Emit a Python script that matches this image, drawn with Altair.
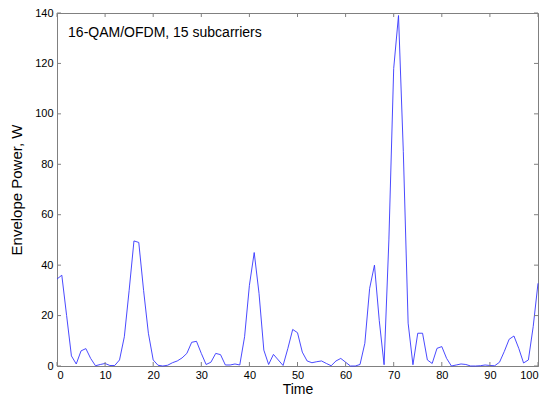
import altair as alt
import pandas as pd

time = list(range(101))
power = [34.5, 36, 20, 4, 0.8, 6, 6.9, 3, 0.1, 0.6,
         1, 0.2, 0.2, 2.4, 11.6, 30, 49.6, 49, 30, 13,
         2.4, 0.3, 0, 0.3, 1.3, 2, 3.2, 5, 9.4, 9.8,
         5, 0.6, 1.5, 5, 4.5, 0.4, 0.4, 0.8, 0.4, 11.6,
         32, 45, 28.8, 6.3, 0.6, 4.6, 2.4, 0.2, 7, 14.5,
         13.2, 5.5, 2, 1.3, 1.7, 2, 1, 0.1, 2, 3,
         1.5, 0, 0, 0.6, 9, 30.8, 40, 18, 0.5, 50,
         118, 139, 85, 17, 0.5, 13, 13, 2.4, 1, 7,
         7.7, 3, 0, 0.4, 0.8, 0.6, 0, 0, 0.1, 0.4,
         0.2, 0.1, 1.5, 5.8, 10.6, 11.9, 7, 1.2, 2.4, 15.6, 32.8]
x_ticks = list(range(0, 101, 10))
y_ticks = list(range(0, 141, 20))
annotation = "16-QAM/OFDM, 15 subcarriers"

W, H = 481, 353
AX = "#808080"
FONT = "Liberation Sans"

df = pd.DataFrame({"Time": time, "Power": power})
xs = alt.Scale(domain=[0, 100], nice=False, zero=False)
ys = alt.Scale(domain=[0, 140], nice=False)

line = alt.Chart(df).mark_line(color="#3535ff", strokeWidth=0.9).encode(
    x=alt.X("Time:Q", scale=xs, title="Time",
            axis=alt.Axis(values=x_ticks, format="d", tickSize=0, labelPadding=3,
                          titlePadding=2, titleFontSize=14, grid=False)),
    y=alt.Y("Power:Q", scale=ys, title="Envelope Power, W",
            axis=alt.Axis(values=y_ticks, format="d", tickSize=0, labelPadding=4,
                          titlePadding=10, grid=False)),
)

xt = pd.DataFrame({"t": x_ticks})
yt = pd.DataFrame({"v": y_ticks})
tick_style = dict(color=AX, strokeWidth=1)
xb = alt.Chart(xt).mark_rule(**tick_style).encode(x=alt.X("t:Q", scale=xs), y=alt.value(H), y2=alt.value(H - 4))
xtop = alt.Chart(xt).mark_rule(**tick_style).encode(x=alt.X("t:Q", scale=xs), y=alt.value(0), y2=alt.value(4))
yl = alt.Chart(yt).mark_rule(**tick_style).encode(y=alt.Y("v:Q", scale=ys), x=alt.value(0), x2=alt.value(4))
yr = alt.Chart(yt).mark_rule(**tick_style).encode(y=alt.Y("v:Q", scale=ys), x=alt.value(W), x2=alt.value(W - 4))

txt = alt.Chart(pd.DataFrame({"label": [annotation]})).mark_text(
    align="left", baseline="middle", fontSize=14, font=FONT, color="black"
).encode(x=alt.datum(2.3), y=alt.datum(132), text="label:N")

chart = alt.layer(line, xb, xtop, yl, yr, txt).properties(
    width=W, height=H,
    autosize=alt.AutoSizeParams(type="none"),
    padding={"left": 57, "top": 13, "right": 8, "bottom": 33},
).configure_view(stroke=AX, strokeWidth=1).configure_axis(
    domainColor=AX, labelFont=FONT, titleFont=FONT, labelFontSize=11,
    titleFontSize=15, titleFontWeight="normal", labelColor="black", titleColor="black",
)

chart.save("out.html", embed_options={"renderer": "svg", "actions": False})
